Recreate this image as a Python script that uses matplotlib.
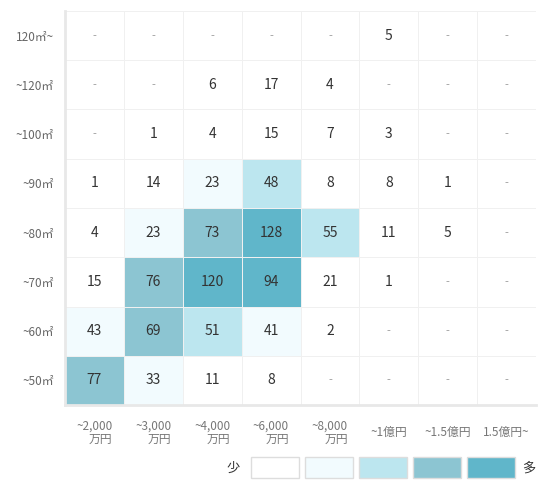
import numpy as np
import matplotlib
matplotlib.use("Agg")
import matplotlib.pyplot as plt
from matplotlib.colors import ListedColormap, BoundaryNorm
from matplotlib.patches import Rectangle

plt.rcParams['font.family'] = ['Noto Sans CJK JP', 'DejaVu Sans']

# ---- data (rows top -> bottom, None = "-") ----
row_labels = ['120㎡~', '~120㎡', '~100㎡', '~90㎡', '~80㎡', '~70㎡', '~60㎡', '~50㎡']
col_labels = ['~2,000\n万円', '~3,000\n万円', '~4,000\n万円', '~6,000\n万円',
              '~8,000\n万円', '~1億円', '~1.5億円', '1.5億円~']
row_120p = [None, None, None, None, None, 5, None, None]
row_120 = [None, None, 6, 17, 4, None, None, None]
row_100 = [None, 1, 4, 15, 7, 3, None, None]
row_90 = [1, 14, 23, 48, 8, 8, 1, None]
row_80 = [4, 23, 73, 128, 55, 11, 5, None]
row_70 = [15, 76, 120, 94, 21, 1, None, None]
row_60 = [43, 69, 51, 41, 2, None, None, None]
row_50 = [77, 33, 11, 8, None, None, None, None]
rows = [row_120p, row_120, row_100, row_90, row_80, row_70, row_60, row_50]

bin_edges = [0, 22, 45, 60, 90, 1000]
bin_colors = ['#ffffff', '#f2fbfe', '#bce6ef', '#8cc5d2', '#60b6ca']
legend_low, legend_high = '少', '多'

vals = np.array([[np.nan if v is None else v for v in r] for r in rows], dtype=float)
cmap = ListedColormap(bin_colors)
cmap.set_bad('#ffffff')
norm = BoundaryNorm(bin_edges, cmap.N)

fig = plt.figure(figsize=(5.49, 4.90), dpi=100)
ax = fig.add_axes([65 / 549, 85 / 490, 471 / 549, 394 / 490])

nr, nc = vals.shape
ax.pcolormesh(np.arange(nc + 1), np.arange(nr + 1), vals, cmap=cmap, norm=norm,
              edgecolors='#f0f0f0', linewidth=0.5)
ax.set_xlim(0, nc)
ax.set_ylim(nr, 0)

for i in range(nr):
    for j in range(nc):
        v = rows[i][j]
        if v is None:
            ax.text(j + 0.5, i + 0.5, '-', ha='center', va='center', fontsize=8, color='#999999')
        else:
            ax.text(j + 0.5, i + 0.5, str(v), ha='center', va='center', fontsize=10, color='#333333')

ax.set_xticks(np.arange(nc) + 0.5)
ax.set_xticklabels(col_labels, fontsize=8.5, color='#777777', multialignment='right',
                   linespacing=1.05, va='center')
ax.set_yticks(np.arange(nr) + 0.5)
ax.set_yticklabels(row_labels, fontsize=8.5, color='#666666')
ax.tick_params(length=0)
ax.tick_params(axis='x', pad=20)
ax.tick_params(axis='y', pad=8)
for s in ['top', 'right']:
    ax.spines[s].set_visible(False)
for s in ['left', 'bottom']:
    ax.spines[s].set_color('#e8e8e8')
    ax.spines[s].set_linewidth(2)

# legend strip
lax = fig.add_axes([0, 0, 1, 1])
lax.set_xlim(0, 549)
lax.set_ylim(490, 0)
lax.axis('off')
for k, c in enumerate(bin_colors):
    lax.add_patch(Rectangle((251 + k * 54, 457), 48, 21, facecolor=c, edgecolor='#dddddd', linewidth=1))
lax.text(240, 468, legend_low, ha='right', va='center', fontsize=9.5, color='#333333')
lax.text(522, 468, legend_high, ha='left', va='center', fontsize=9.5, color='#333333')

fig.savefig('out.png', dpi=100)
